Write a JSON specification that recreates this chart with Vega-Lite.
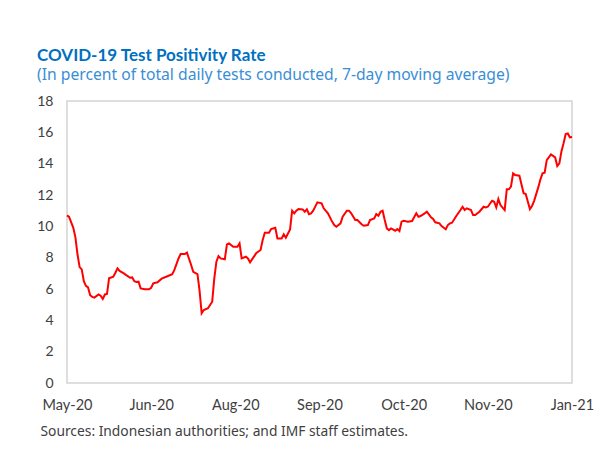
{
  "$schema": "https://vega.github.io/schema/vega-lite/v6.json",
  "width": 505,
  "height": 282,
  "autosize": {"type": "none"},
  "padding": {"left": 67, "top": 101, "right": 23, "bottom": 77},
  "background": "white",
  "title": {
    "text": "COVID-19 Test Positivity Rate",
    "subtitle": "(In percent of total daily tests conducted, 7-day moving average)",
    "anchor": "start",
    "frame": "group",
    "dx": -30,
    "offset": 10,
    "font": "Lato",
    "fontSize": 17,
    "fontWeight": "bold",
    "color": "#0070C0",
    "subtitleFont": "Noto Sans",
    "subtitleFontSize": 15.7,
    "subtitleColor": "#3A8ED5",
    "subtitlePadding": 3
  },
  "config": {
    "view": {"stroke": "#d4d4d4", "strokeWidth": 1.5},
    "axis": {"labelFont": "Lato", "labelColor": "#404040", "labelFontSize": 14, "grid": false, "domain": false, "ticks": false, "tickSize": 0}
  },
  "data": {
    "values": [
      {"date": "2020-05-14", "rate": 10.7},
      {"date": "2020-05-15", "rate": 10.6},
      {"date": "2020-05-17", "rate": 9.9},
      {"date": "2020-05-18", "rate": 9.3},
      {"date": "2020-05-19", "rate": 8.2},
      {"date": "2020-05-20", "rate": 7.4},
      {"date": "2020-05-21", "rate": 7.25},
      {"date": "2020-05-22", "rate": 6.5},
      {"date": "2020-05-23", "rate": 6.2},
      {"date": "2020-05-24", "rate": 6.1},
      {"date": "2020-05-25", "rate": 5.6},
      {"date": "2020-05-26", "rate": 5.5},
      {"date": "2020-05-27", "rate": 5.45},
      {"date": "2020-05-29", "rate": 5.65},
      {"date": "2020-05-30", "rate": 5.57},
      {"date": "2020-05-31", "rate": 5.36},
      {"date": "2020-06-01", "rate": 5.65},
      {"date": "2020-06-02", "rate": 5.68},
      {"date": "2020-06-03", "rate": 6.68},
      {"date": "2020-06-05", "rate": 6.78},
      {"date": "2020-06-06", "rate": 7.04},
      {"date": "2020-06-07", "rate": 7.32},
      {"date": "2020-06-08", "rate": 7.15},
      {"date": "2020-06-10", "rate": 7.0},
      {"date": "2020-06-11", "rate": 6.9},
      {"date": "2020-06-13", "rate": 6.72},
      {"date": "2020-06-14", "rate": 6.74},
      {"date": "2020-06-15", "rate": 6.5},
      {"date": "2020-06-16", "rate": 6.45},
      {"date": "2020-06-17", "rate": 6.47},
      {"date": "2020-06-18", "rate": 6.04},
      {"date": "2020-06-20", "rate": 5.98},
      {"date": "2020-06-22", "rate": 5.98},
      {"date": "2020-06-23", "rate": 6.08},
      {"date": "2020-06-24", "rate": 6.36},
      {"date": "2020-06-26", "rate": 6.43},
      {"date": "2020-06-28", "rate": 6.66},
      {"date": "2020-07-01", "rate": 6.83},
      {"date": "2020-07-03", "rate": 6.94},
      {"date": "2020-07-04", "rate": 7.2},
      {"date": "2020-07-06", "rate": 7.95},
      {"date": "2020-07-07", "rate": 8.23},
      {"date": "2020-07-09", "rate": 8.23},
      {"date": "2020-07-10", "rate": 8.32},
      {"date": "2020-07-12", "rate": 7.53},
      {"date": "2020-07-13", "rate": 7.1},
      {"date": "2020-07-15", "rate": 6.95},
      {"date": "2020-07-16", "rate": 5.9},
      {"date": "2020-07-17", "rate": 4.45},
      {"date": "2020-07-18", "rate": 4.66},
      {"date": "2020-07-20", "rate": 4.77},
      {"date": "2020-07-21", "rate": 4.98},
      {"date": "2020-07-22", "rate": 5.19},
      {"date": "2020-07-23", "rate": 6.68},
      {"date": "2020-07-24", "rate": 7.74},
      {"date": "2020-07-25", "rate": 8.1},
      {"date": "2020-07-26", "rate": 7.95},
      {"date": "2020-07-28", "rate": 7.9},
      {"date": "2020-07-29", "rate": 8.85},
      {"date": "2020-07-30", "rate": 8.91},
      {"date": "2020-08-01", "rate": 8.7},
      {"date": "2020-08-03", "rate": 8.7},
      {"date": "2020-08-04", "rate": 8.91},
      {"date": "2020-08-05", "rate": 7.95},
      {"date": "2020-08-07", "rate": 8.06},
      {"date": "2020-08-08", "rate": 7.95},
      {"date": "2020-08-09", "rate": 7.7},
      {"date": "2020-08-11", "rate": 8.1},
      {"date": "2020-08-12", "rate": 8.3},
      {"date": "2020-08-14", "rate": 8.49},
      {"date": "2020-08-15", "rate": 9.13},
      {"date": "2020-08-16", "rate": 9.59},
      {"date": "2020-08-18", "rate": 9.59},
      {"date": "2020-08-19", "rate": 9.83},
      {"date": "2020-08-21", "rate": 9.91},
      {"date": "2020-08-22", "rate": 9.23},
      {"date": "2020-08-24", "rate": 9.23},
      {"date": "2020-08-25", "rate": 9.49},
      {"date": "2020-08-26", "rate": 9.27},
      {"date": "2020-08-28", "rate": 9.8},
      {"date": "2020-08-29", "rate": 11.0},
      {"date": "2020-08-30", "rate": 10.83},
      {"date": "2020-08-31", "rate": 11.0},
      {"date": "2020-09-01", "rate": 11.1},
      {"date": "2020-09-03", "rate": 11.08},
      {"date": "2020-09-04", "rate": 10.93},
      {"date": "2020-09-05", "rate": 11.08},
      {"date": "2020-09-06", "rate": 10.78},
      {"date": "2020-09-07", "rate": 10.83},
      {"date": "2020-09-08", "rate": 11.0},
      {"date": "2020-09-10", "rate": 11.53},
      {"date": "2020-09-12", "rate": 11.47},
      {"date": "2020-09-13", "rate": 11.15},
      {"date": "2020-09-15", "rate": 10.83},
      {"date": "2020-09-17", "rate": 10.3},
      {"date": "2020-09-18", "rate": 10.08},
      {"date": "2020-09-19", "rate": 9.97},
      {"date": "2020-09-21", "rate": 10.19},
      {"date": "2020-09-22", "rate": 10.61},
      {"date": "2020-09-24", "rate": 11.0},
      {"date": "2020-09-25", "rate": 11.0},
      {"date": "2020-09-26", "rate": 10.85},
      {"date": "2020-09-28", "rate": 10.4},
      {"date": "2020-09-29", "rate": 10.4},
      {"date": "2020-10-01", "rate": 10.13},
      {"date": "2020-10-02", "rate": 10.04},
      {"date": "2020-10-04", "rate": 10.08},
      {"date": "2020-10-05", "rate": 10.4},
      {"date": "2020-10-07", "rate": 10.51},
      {"date": "2020-10-08", "rate": 10.78},
      {"date": "2020-10-09", "rate": 10.68},
      {"date": "2020-10-10", "rate": 10.93},
      {"date": "2020-10-11", "rate": 11.0},
      {"date": "2020-10-12", "rate": 10.4},
      {"date": "2020-10-13", "rate": 9.87},
      {"date": "2020-10-14", "rate": 9.76},
      {"date": "2020-10-15", "rate": 9.87},
      {"date": "2020-10-17", "rate": 9.72},
      {"date": "2020-10-18", "rate": 9.83},
      {"date": "2020-10-19", "rate": 9.7},
      {"date": "2020-10-20", "rate": 10.3},
      {"date": "2020-10-21", "rate": 10.36},
      {"date": "2020-10-23", "rate": 10.3},
      {"date": "2020-10-25", "rate": 10.34},
      {"date": "2020-10-27", "rate": 10.83},
      {"date": "2020-10-28", "rate": 10.61},
      {"date": "2020-10-29", "rate": 10.66},
      {"date": "2020-10-31", "rate": 10.83},
      {"date": "2020-11-01", "rate": 10.93},
      {"date": "2020-11-03", "rate": 10.57},
      {"date": "2020-11-04", "rate": 10.47},
      {"date": "2020-11-05", "rate": 10.26},
      {"date": "2020-11-07", "rate": 10.19},
      {"date": "2020-11-08", "rate": 10.02},
      {"date": "2020-11-10", "rate": 9.81},
      {"date": "2020-11-11", "rate": 10.08},
      {"date": "2020-11-12", "rate": 10.19},
      {"date": "2020-11-13", "rate": 10.23},
      {"date": "2020-11-15", "rate": 10.66},
      {"date": "2020-11-17", "rate": 11.04},
      {"date": "2020-11-18", "rate": 11.25},
      {"date": "2020-11-19", "rate": 11.04},
      {"date": "2020-11-20", "rate": 11.15},
      {"date": "2020-11-22", "rate": 11.04},
      {"date": "2020-11-23", "rate": 10.72},
      {"date": "2020-11-24", "rate": 10.72},
      {"date": "2020-11-26", "rate": 10.93},
      {"date": "2020-11-28", "rate": 11.25},
      {"date": "2020-11-29", "rate": 11.21},
      {"date": "2020-11-30", "rate": 11.25},
      {"date": "2020-12-02", "rate": 11.63},
      {"date": "2020-12-03", "rate": 11.57},
      {"date": "2020-12-04", "rate": 11.21},
      {"date": "2020-12-05", "rate": 11.74},
      {"date": "2020-12-06", "rate": 11.36},
      {"date": "2020-12-08", "rate": 11.04},
      {"date": "2020-12-09", "rate": 12.36},
      {"date": "2020-12-10", "rate": 12.36},
      {"date": "2020-12-11", "rate": 12.53},
      {"date": "2020-12-12", "rate": 13.38},
      {"date": "2020-12-13", "rate": 13.27},
      {"date": "2020-12-15", "rate": 13.23},
      {"date": "2020-12-17", "rate": 12.11},
      {"date": "2020-12-18", "rate": 12.06},
      {"date": "2020-12-20", "rate": 11.1},
      {"date": "2020-12-21", "rate": 11.3},
      {"date": "2020-12-22", "rate": 11.63},
      {"date": "2020-12-24", "rate": 12.5},
      {"date": "2020-12-25", "rate": 13.0},
      {"date": "2020-12-26", "rate": 13.38},
      {"date": "2020-12-27", "rate": 13.42},
      {"date": "2020-12-28", "rate": 14.23},
      {"date": "2020-12-30", "rate": 14.59},
      {"date": "2021-01-01", "rate": 14.4},
      {"date": "2021-01-02", "rate": 13.85},
      {"date": "2021-01-03", "rate": 14.02},
      {"date": "2021-01-04", "rate": 14.8},
      {"date": "2021-01-05", "rate": 15.3},
      {"date": "2021-01-06", "rate": 15.89},
      {"date": "2021-01-07", "rate": 15.93},
      {"date": "2021-01-08", "rate": 15.68},
      {"date": "2021-01-09", "rate": 15.7}
    ]
  },
  "mark": {"type": "line", "color": "#FF0000", "strokeWidth": 2, "interpolate": "linear"},
  "encoding": {
    "x": {
      "field": "date",
      "type": "temporal",
      "scale": {"type": "utc", "domain": [{"year": 2020, "month": 5, "date": 14, "utc": true}, {"year": 2021, "month": 1, "date": 9, "utc": true}]},
      "axis": {
        "values": [
          {"year": 2020, "month": 5, "date": 14, "utc": true},
          {"year": 2020, "month": 6, "date": 23, "utc": true},
          {"year": 2020, "month": 8, "date": 2, "utc": true},
          {"year": 2020, "month": 9, "date": 11, "utc": true},
          {"year": 2020, "month": 10, "date": 21, "utc": true},
          {"year": 2020, "month": 11, "date": 30, "utc": true},
          {"year": 2021, "month": 1, "date": 9, "utc": true}
        ],
        "labelExpr": "utcFormat(datum.value, '%b-%y')",
        "labelFontSize": 14.5,
        "labelPadding": 15,
        "labelOverlap": false,
        "labelFlush": false,
        "title": "Sources: Indonesian authorities; and IMF staff estimates.",
        "titleFont": "Noto Sans",
        "titleFontSize": 13.8,
        "titleFontWeight": "normal",
        "titleColor": "#404040",
        "titleAnchor": "start",
        "titleAlign": "left",
        "titleBaseline": "middle",
        "titleX": -27,
        "titleY": 48
      }
    },
    "y": {
      "field": "rate",
      "type": "quantitative",
      "scale": {"domain": [0, 18], "nice": false},
      "axis": {"values": [0, 2, 4, 6, 8, 10, 12, 14, 16, 18], "labelPadding": 14, "title": null}
    }
  }
}
